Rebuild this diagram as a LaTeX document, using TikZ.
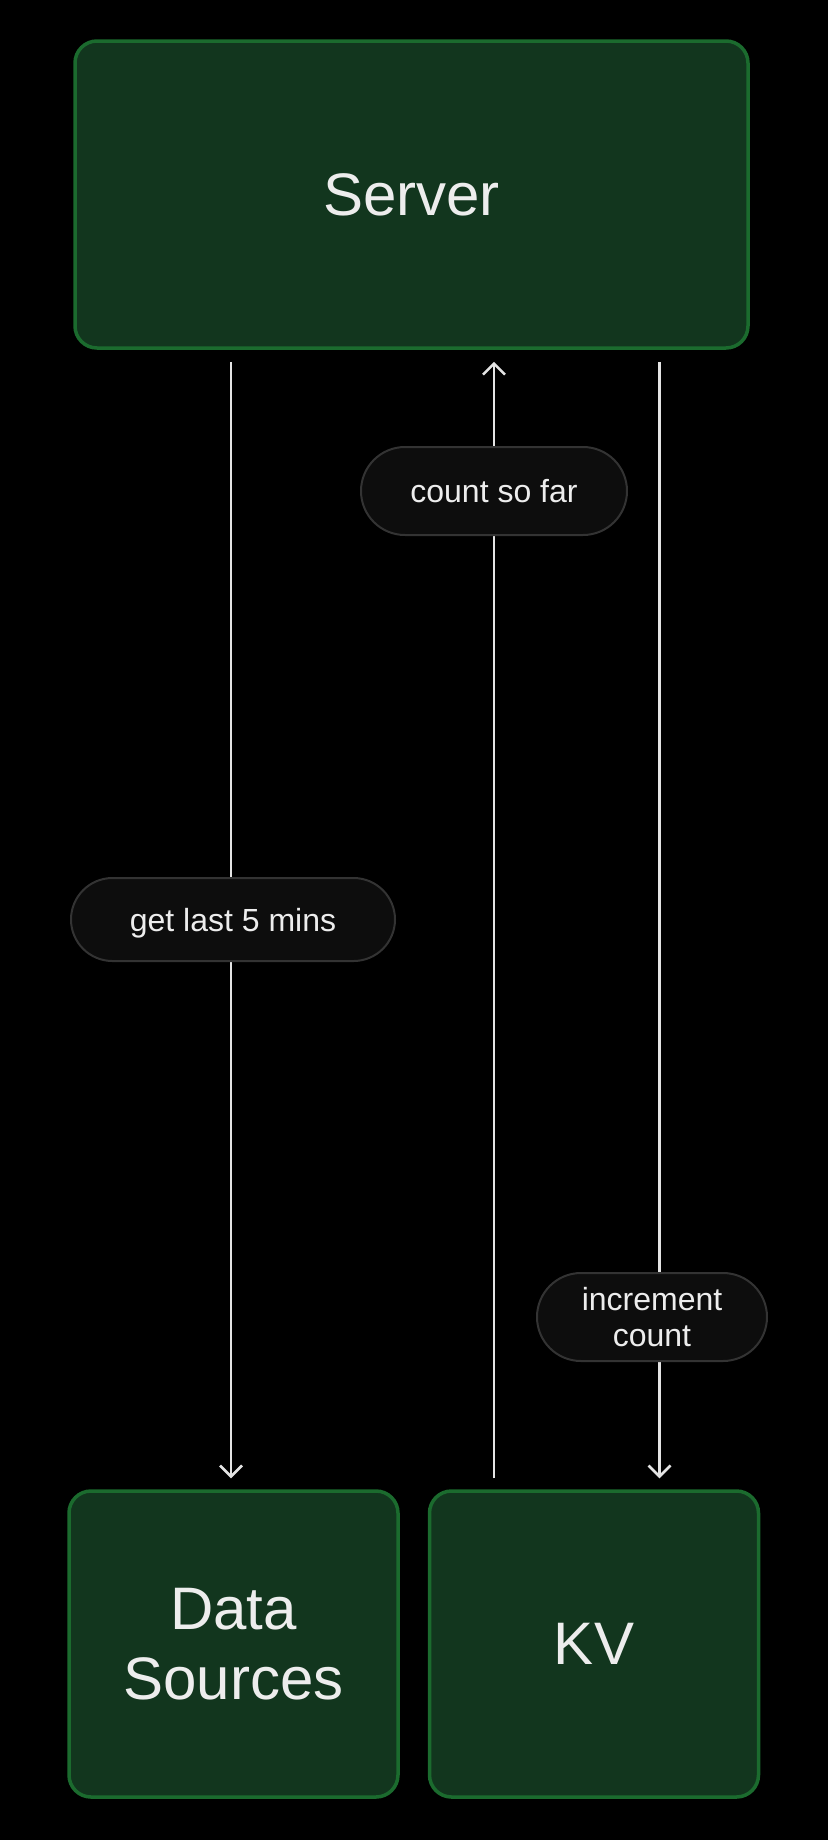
\documentclass[tikz,border=0pt]{standalone}
\usepackage{fontspec}
\setmainfont{Liberation Sans}
\usetikzlibrary{arrows.meta}
\definecolor{bg}{HTML}{000000}
\definecolor{boxfill}{HTML}{12361E}
\definecolor{boxline}{HTML}{1B6B2E}
\definecolor{pillfill}{HTML}{0D0D0D}
\definecolor{pillline}{HTML}{333333}
\definecolor{txt}{HTML}{EDEDED}
\definecolor{arrcol}{HTML}{E4E4E4}
\tikzset{
  bigbox/.style={draw=boxline, fill=boxfill, line width=3.5pt, rounded corners=22pt,
    text=txt, font=\fontsize{60}{70}\selectfont, align=center, inner sep=0pt},
  pill/.style={draw=pillline, fill=pillfill, line width=2pt, text=txt,
    font=\fontsize{32}{36}\selectfont, align=center, inner sep=0pt},
  arr/.style={draw=arrcol, line width=2.5pt, -{Straight Barb[length=11pt,width=22pt]}},
}
\begin{document}
\begin{tikzpicture}[x=1pt,y=-1pt]
\fill[bg] (0,0) rectangle (828,1840);
\useasboundingbox (0,0) rectangle (828,1840);
\node[bigbox, minimum width=673pt, minimum height=307pt] (server) at (411.5,194.5) {Server};
\node[bigbox, minimum width=329pt, minimum height=306pt] (ds) at (233.5,1644) {Data\\Sources};
\node[bigbox, minimum width=329pt, minimum height=306pt] (kv) at (594,1644) {KV};
\coordinate (c1) at (231,0);
\coordinate (c2) at (494,0);
\coordinate (c3) at (659.5,0);
\draw[arr, shorten <=12pt, shorten >=11pt] (server.south -| c1) -- (ds.north -| c1);
\draw[arr, shorten <=11pt, shorten >=12pt] (kv.north -| c2) -- (server.south -| c2);
\draw[arr, shorten <=12pt, shorten >=11pt] (server.south -| c3) -- (kv.north -| c3);
\node[pill, minimum width=266pt, minimum height=88pt, rounded corners=44pt] (l2) at (494,491) {count so far};
\node[pill, minimum width=324pt, minimum height=83pt, rounded corners=41.5pt, text depth=0pt] (l1) at (233,919.5) {get last 5 mins};
\node[pill, minimum width=230pt, minimum height=88pt, rounded corners=44pt] (l3) at (652,1317) {increment\\count};
\end{tikzpicture}
\end{document}
